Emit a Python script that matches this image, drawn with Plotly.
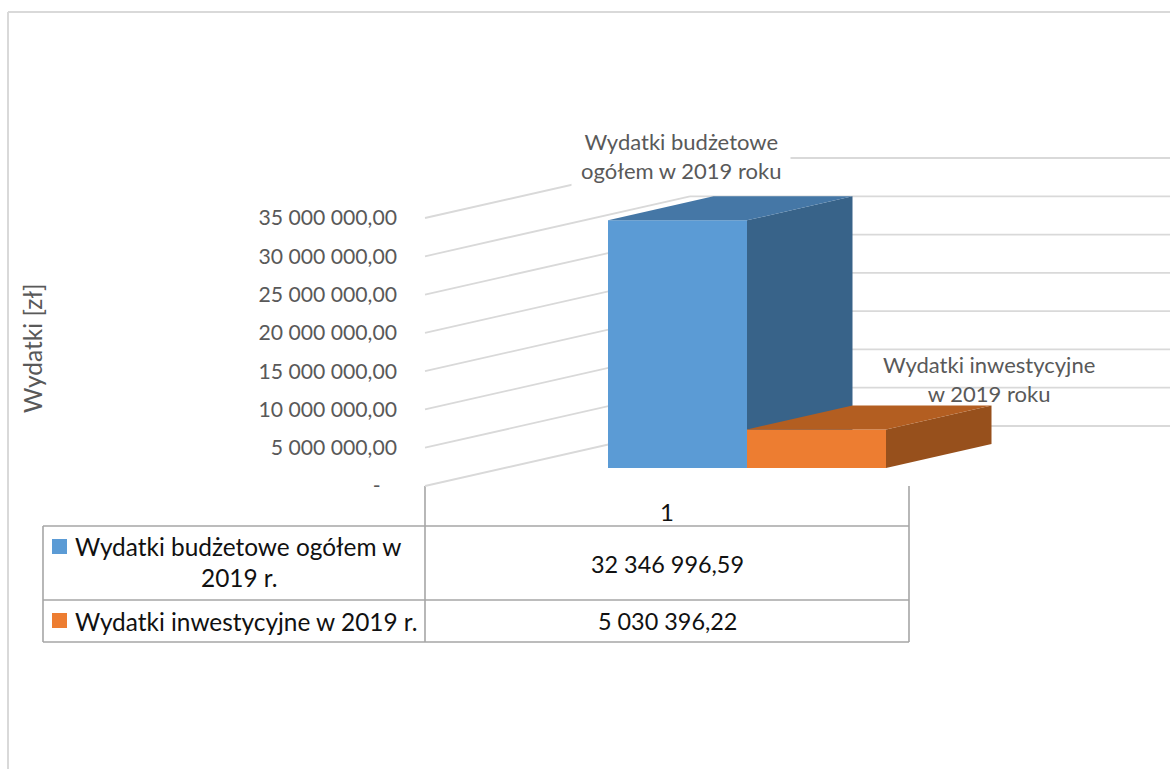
import plotly.graph_objects as go

# --- data ---
series_names = ["Wydatki budżetowe ogółem w 2019 r.", "Wydatki inwestycyjne w 2019 r."]
series_values = [32346996.59, 5030396.22]
value_labels = ["32 346 996,59", "5 030 396,22"]
category_labels = ["1"]
tick_values = [0, 5000000, 10000000, 15000000, 20000000, 25000000, 30000000, 35000000]
tick_labels = ["-\u00a0\u00a0\u00a0", "5 000 000,00", "10 000 000,00", "15 000 000,00", "20 000 000,00",
               "25 000 000,00", "30 000 000,00", "35 000 000,00"]

# --- style / geometry ---
W, H = 1170, 769
FONT = "Lato"
GREY = "#595959"
GRID = "#D9D9D9"
TBL = "#A6A6A6"
INK = "#111111"
front = ["#5B9BD5", "#ED7D31"]
top_c = ["#4577A6", "#B35E21"]
side_c = ["#386389", "#97501C"]

zero_px = 486.0
px_per_unit = 268.0 / 35000000
bar_lefts = [608.0, 747.0]
bar_w = 139.0
depth_dx = 105.5
depth_dy = 24.0 / px_per_unit
floor_off = 18.0 / px_per_unit
wall_x0, wall_x1 = 425.0, 690.0
wall_dy = 60.0 / px_per_unit
x_range = [0, W]
y_range = [(zero_px - H) / px_per_unit, zero_px / px_per_unit]


def px(x):
    return x / W


def py(y):
    return 1 - y / H


fig = go.Figure()
shapes = []


def line(x0, y0, x1, y1, color, width, xref="paper", yref="paper"):
    shapes.append(dict(type="line", xref=xref, yref=yref, x0=x0, y0=y0, x1=x1, y1=y1,
                       line=dict(color=color, width=width), layer="below"))


# gridlines on side wall + back wall, through the value axis
for t in tick_values:
    line(wall_x0, t, wall_x1, t + wall_dy, GRID, 1.8, "x", "y")
    line(wall_x1, t + wall_dy, W, t + wall_dy, GRID, 1.8, "x", "y")

# chart frame
line(px(8), py(12), 1, py(12), GRID, 2)
line(px(8), py(12), px(8), 0, GRID, 2)

# data table
for (a, b, c, d) in [
    (425, 486, 425, 642), (909, 486, 909, 642),
    (43, 526, 909, 526), (43, 600, 909, 600), (43, 642, 909, 642),
    (43, 526, 43, 642),
]:
    line(px(a), py(b), px(c), py(d), TBL, 1.6)

# legend keys
for (yy, col) in zip([539, 613], front):
    shapes.append(dict(type="rect", xref="paper", yref="paper", x0=px(52), x1=px(67),
                       y0=py(yy), y1=py(yy + 15), fillcolor=col, line=dict(width=0), layer="above"))

# bars: each series on its own overlaid axes pair, so the nearer one paints over the farther one
for i, (name, v, left, f, t_c, s_c) in enumerate(zip(series_names, series_values, bar_lefts, front, top_c, side_c)):
    xa, ya = ("x", "y") if i == 0 else ("x2", "y2")
    right = left + bar_w
    b = floor_off
    top = floor_off + v
    fig.add_trace(go.Scatter(
        x=[right, right + depth_dx, right + depth_dx, right, right],
        y=[b, b + depth_dy, top + depth_dy, top, b],
        xaxis=xa, yaxis=ya,
        mode="lines", fill="toself", fillcolor=s_c, line=dict(width=0), showlegend=False, hoverinfo="skip"))
    fig.add_trace(go.Scatter(
        x=[left, right, right + depth_dx, left + depth_dx, left],
        y=[top, top, top + depth_dy, top + depth_dy, top],
        xaxis=xa, yaxis=ya,
        mode="lines", fill="toself", fillcolor=t_c, line=dict(width=0), showlegend=False, hoverinfo="skip"))
    fig.add_trace(go.Bar(x=[left + bar_w / 2], y=[v], base=[b], width=[bar_w], name=name,
                         xaxis=xa, yaxis=ya,
                         marker=dict(color=f, line=dict(width=0)), showlegend=False))

annotations = []


def txt(text, x, y, size, color, xanchor="center", **kw):
    annotations.append(dict(text=text, x=px(x), y=py(y), xref="paper", yref="paper", showarrow=False,
                            xanchor=xanchor, yanchor="middle",
                            font=dict(family=FONT, size=size, color=color), **kw))


txt("Wydatki budżetowe<br>ogółem w 2019 roku", 681, 155.5, 22, GREY, bgcolor="white", borderpad=9)
txt("Wydatki inwestycyjne<br>w 2019 roku", 989, 378.5, 22, GREY)
txt("Wydatki [zł]", 33, 349, 24.5, GREY, textangle=-90)
txt(series_names[0][:-8].rstrip(), 73, 546.5, 24.4, INK, xanchor="left")
txt("2019 r.", 239, 577.5, 24.4, INK)
txt(series_names[1], 73, 621, 24.4, INK, xanchor="left")
txt(value_labels[0], 667, 564, 23.4, INK)
txt(value_labels[1], 667, 621, 23.4, INK)

fig.update_layout(
    width=W, height=H, margin=dict(l=0, r=0, t=0, b=0), autosize=False,
    paper_bgcolor="white", plot_bgcolor="white", showlegend=False, barmode="overlay",
    shapes=shapes, annotations=annotations,
    xaxis=dict(range=x_range, domain=[0, 1], showgrid=False, zeroline=False, showline=False,
               tickmode="array", tickvals=[667], ticktext=category_labels, ticks="",
               anchor="free", position=1 - 496.0 / H,
               tickfont=dict(family=FONT, size=24, color=INK)),
    yaxis=dict(range=y_range, domain=[0, 1],
               showgrid=False, zeroline=False, showline=False, ticks="",
               tickmode="array", tickvals=tick_values, ticktext=tick_labels,
               anchor="free", position=397.0 / W,
               tickfont=dict(family=FONT, size=21.2, color=GREY)),
    xaxis2=dict(range=x_range, overlaying="x", visible=False, anchor="y2"),
    yaxis2=dict(range=y_range, overlaying="y", visible=False, anchor="x2"),
)

fig.write_html("out.html", config={"displayModeBar": False},
               post_script="document.body.style.margin='0';")
